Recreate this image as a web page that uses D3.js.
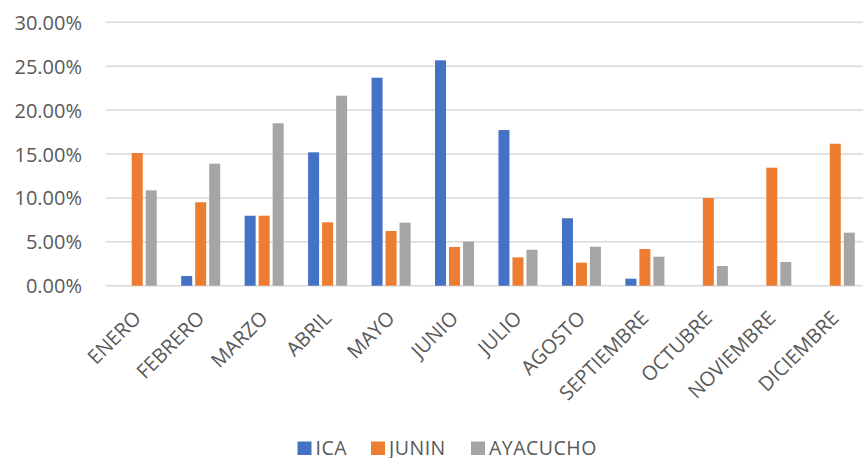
<!DOCTYPE html>
<html>
<head>
<meta charset="utf-8">
<script src="https://cdn.jsdelivr.net/npm/d3@7/dist/d3.min.js"></script>
<style>
  body { margin: 0; background: #fff; }
  svg text { font-family: "Open Sans", sans-serif; fill: #595959; }
</style>
</head>
<body>
<div id="chart"></div>
<script>
// months on the x axis
var months = ["ENERO", "FEBRERO", "MARZO", "ABRIL", "MAYO", "JUNIO", "JULIO",
              "AGOSTO", "SEPTIEMBRE", "OCTUBRE", "NOVIEMBRE", "DICIEMBRE"];
var seriesNames = ["ICA", "JUNIN", "AYACUCHO"];
var seriesColors = ["#4472C4", "#ED7D31", "#A5A5A5"];

// values in percent
var ica      = [0, 1.10, 7.97, 15.19, 23.69, 25.67, 17.73, 7.68, 0.80, 0, 0, 0];
var junin    = [15.11, 9.50, 7.97, 7.22, 6.23, 4.41, 3.23, 2.62, 4.18, 9.99, 13.44, 16.17];
var ayacucho = [10.86, 13.90, 18.50, 21.64, 7.18, 5.01, 4.10, 4.44, 3.30, 2.24, 2.70, 6.04];
var yTicks = [0, 5, 10, 15, 20, 25, 30];

var allSeries = [ica, junin, ayacucho];

var width = 863, height = 458;

var svg = d3.select("#chart").append("svg")
    .attr("width", width)
    .attr("height", height);

// scales
var x0 = d3.scaleBand().domain(months).range([105.5, 867])
    .paddingInner(0.385).paddingOuter(0.1925);
var x1 = d3.scaleBand().domain(seriesNames).range([0, x0.bandwidth()])
    .paddingInner(3 / 14);
var y = d3.scaleLinear().domain([0, 30]).range([285.7, 22.3]);

// gridlines
svg.append("g")
  .selectAll("line")
  .data(yTicks)
  .enter().append("line")
    .attr("x1", 105.5)
    .attr("x2", 867)
    .attr("y1", function(d) { return y(d); })
    .attr("y2", function(d) { return y(d); })
    .attr("stroke", "#D9D9D9")
    .attr("stroke-width", 1.5);

// y labels
var yAxis = d3.axisLeft(y).tickValues(yTicks).tickSize(0).tickPadding(0)
    .tickFormat(function(d) { return d.toFixed(2) + "%"; });
var yg = svg.append("g").attr("transform", "translate(82,0)").call(yAxis);
yg.select(".domain").remove();
yg.selectAll("text")
    .attr("font-size", 20)
    .attr("font-family", null)
    .attr("fill", "#595959")
    .attr("dy", "0.35em");

// bars
var groups = svg.append("g")
  .selectAll("g")
  .data(months)
  .enter().append("g")
    .attr("transform", function(d) { return "translate(" + x0(d) + ",0)"; });

groups.selectAll("rect")
  .data(function(m, i) {
      return seriesNames.map(function(s, j) { return {key: s, value: allSeries[j][i], color: seriesColors[j]}; });
  })
  .enter().append("rect")
    .attr("x", function(d) { return x1(d.key); })
    .attr("y", function(d) { return y(d.value); })
    .attr("width", x1.bandwidth())
    .attr("height", function(d) { return y(0) - y(d.value); })
    .attr("fill", function(d) { return d.color; });

// x labels, rotated
var xAxis = d3.axisBottom(x0).tickSize(0).tickPadding(0);
var xg = svg.append("g").attr("transform", "translate(0,314.5)").call(xAxis);
xg.select(".domain").remove();
xg.selectAll("text")
    .attr("font-size", 20)
    .attr("font-family", null)
    .attr("fill", "#595959")
    .attr("text-anchor", "end")
    .attr("dy", "0.35em")
    .attr("y", 0)
    .attr("transform", "rotate(-45)");

// legend
var legendX = [297.5, 371, 471];
var legend = svg.append("g")
  .selectAll("g")
  .data(seriesNames)
  .enter().append("g")
    .attr("transform", function(d, i) { return "translate(" + legendX[i] + ",441.5)"; });

legend.append("rect")
    .attr("width", 14)
    .attr("height", 13.5)
    .attr("fill", function(d, i) { return seriesColors[i]; });

legend.append("text")
    .attr("x", 18)
    .attr("y", 13.3)
    .attr("font-size", 19.5)
    .attr("letter-spacing", 0.5)
    .text(function(d) { return d; });
</script>
</body>
</html>
